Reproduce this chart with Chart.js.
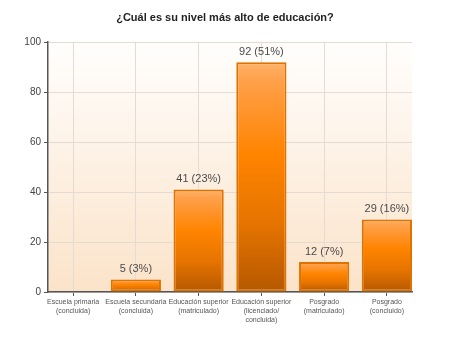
<!DOCTYPE html>
<html>
<head>
<meta charset="utf-8">
<script src="https://cdn.jsdelivr.net/npm/chart.js@4/dist/chart.umd.min.js"></script>
<style>
  html, body { margin: 0; padding: 0; background: #fff; }
  #wrap { width: 450px; height: 338px; }
</style>
</head>
<body>
<div id="wrap"><canvas id="educacion"></canvas></div>
<script>
// categorías y respuestas
var categorias = [
  ["Escuela primaria", "(concluida)"],
  ["Escuela secundaria", "(concluida)"],
  ["Educación superior", "(matriculado)"],
  ["Educación superior", "(licenciado/", "concluida)"],
  ["Posgrado", "(matriculado)"],
  ["Posgrado", "(concluido)"]
];
var respuestas = [0, 5, 41, 92, 12, 29];
var porcentajes = [0, 3, 23, 51, 7, 16];
var ticksY = [0, 20, 40, 60, 80, 100];

var puntos = respuestas.map(function (v, i) {
  return { x: i, y: v };
});

// fondo degradado del área del gráfico
var fondo = {
  id: "fondo",
  beforeDraw: function (chart) {
    var a = chart.chartArea;
    var ctx = chart.ctx;
    var g = ctx.createLinearGradient(0, a.top, 0, a.bottom);
    g.addColorStop(0, "#fffefd");
    g.addColorStop(1, "#fbe3c9");
    ctx.save();
    ctx.fillStyle = g;
    ctx.fillRect(a.left, a.top, a.right - a.left, a.bottom - a.top);
    ctx.restore();
  }
};

// etiquetas "n (p%)" encima de cada barra
var etiquetas = {
  id: "etiquetas",
  afterDatasetsDraw: function (chart) {
    var ctx = chart.ctx;
    var meta = chart.getDatasetMeta(0);
    ctx.save();
    ctx.font = "11px 'Liberation Sans', Arial, sans-serif";
    ctx.fillStyle = "#4a4a4a";
    ctx.textAlign = "center";
    ctx.textBaseline = "bottom";
    meta.data.forEach(function (bar, i) {
      if (!respuestas[i]) return;
      ctx.fillText(respuestas[i] + " (" + porcentajes[i] + "%)", bar.x, bar.y - 5);
    });
    ctx.restore();
  }
};

function colorBarra(c) {
  var chart = c.chart;
  var y = chart.scales.y;
  if (!y || c.parsed == null) return "#ff8000";
  var top = y.getPixelForValue(c.parsed.y);
  var base = y.getPixelForValue(0);
  if (!isFinite(top) || base - top < 1) return "#ff8000";
  var g = chart.ctx.createLinearGradient(0, top, 0, base);
  g.addColorStop(0, "#ffb36b");
  g.addColorStop(0.08, "#ffa04a");
  g.addColorStop(0.4, "#ff8400");
  g.addColorStop(0.7, "#e67400");
  g.addColorStop(1, "#b55800");
  return g;
}

var fuente = "'Liberation Sans', Arial, sans-serif";

new Chart("educacion", {
  type: "bar",
  data: {
    datasets: [
      {
        data: puntos,
        backgroundColor: colorBarra,
        borderColor: "#e07200",
        borderWidth: 2,
        borderSkipped: false,
        barPercentage: 0.8,
        categoryPercentage: 1
      }
    ]
  },
  options: {
    responsive: true,
    maintainAspectRatio: false,
    animation: false,
    layout: { padding: 0 },
    plugins: {
      legend: { display: false },
      tooltip: { enabled: false },
      title: {
        display: true,
        text: "¿Cuál es su nivel más alto de educación?",
        color: "#222",
        font: { family: fuente, size: 11, weight: "bold" },
        padding: { top: 11, bottom: 18 }
      }
    },
    scales: {
      x: {
        type: "linear",
        offset: false,
        min: -0.4,
        max: 5.4,
        afterBuildTicks: function (scale) {
          scale.ticks = categorias.map(function (c, i) {
            return { value: i };
          });
        },
        afterFit: function (scale) {
          scale.height = 46;
        },
        ticks: {
          autoSkip: false,
          maxRotation: 0,
          padding: 2,
          color: "#555",
          font: { family: fuente, size: 7, lineHeight: 1.25 },
          callback: function (v) {
            return categorias[v];
          }
        },
        grid: { offset: false, color: "#e4dcd4", tickColor: "#555", tickLength: 4 },
        border: { color: "#555", width: 1.5 }
      },
      y: {
        min: 0,
        max: 100,
        afterBuildTicks: function (scale) {
          scale.ticks = ticksY.map(function (v) {
            return { value: v };
          });
        },
        afterFit: function (scale) {
          scale.width = 48;
        },
        ticks: {
          padding: 3,
          color: "#444",
          font: { family: fuente, size: 10 }
        },
        grid: { color: "#e4dcd4", tickColor: "#555", tickLength: 4 },
        border: { color: "#555", width: 1.5 }
      },
      // margen derecho vacío
      margen: {
        position: "right",
        min: 0,
        max: 100,
        afterFit: function (scale) {
          scale.width = 38;
        },
        ticks: { display: false },
        grid: { display: false },
        border: { display: false }
      }
    }
  },
  plugins: [fondo, etiquetas]
});
</script>
</body>
</html>
